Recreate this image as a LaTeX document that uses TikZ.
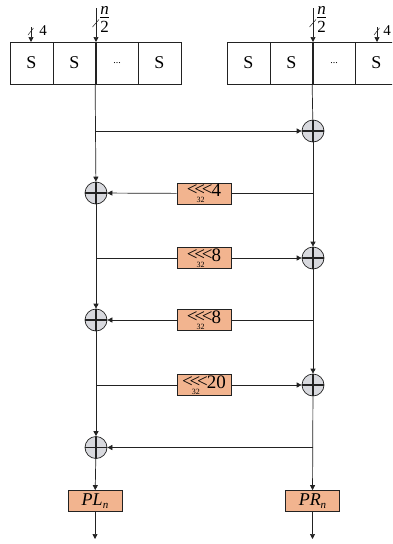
\documentclass[tikz,border=0pt]{standalone}
\usepackage{amsmath}
\usepackage{fontspec}
\setmainfont{Liberation Serif}
\usetikzlibrary{arrows.meta}
\definecolor{rotfill}{HTML}{F2B48F}
\definecolor{xorfill}{HTML}{D8D9DE}
\definecolor{ln}{HTML}{222222}
\tikzset{
  cell/.style={draw=ln, line width=0.7pt, minimum width=43pt, minimum height=42pt, inner sep=0pt, font=\fontsize{18}{18}\selectfont},
  xorn/.style={circle, draw=ln, line width=0.7pt, fill=xorfill, minimum size=22pt, inner sep=0pt,
    path picture={\draw[ln, line width=1.3pt] (path picture bounding box.north) -- (path picture bounding box.south)
      (path picture bounding box.west) -- (path picture bounding box.east);}},
  rotbox/.style={draw=ln, line width=0.7pt, fill=rotfill, minimum width=54pt, minimum height=21pt, inner sep=0pt},
  wire/.style={draw=ln, line width=0.7pt},
  arr/.style={wire, -{Triangle[length=5pt,width=5pt]}},
  slash/.style={draw=ln, line width=0.5pt},
  lab/.style={inner sep=0pt},
}
\newcommand{\rotl}[1]{{\fontsize{19}{19}\selectfont\raisebox{1pt}{<\kern-3.3pt<\kern-3.3pt<}}\kern-16pt\raisebox{-6.5pt}{\fontsize{8}{8}\selectfont 32}\kern7pt{\fontsize{19}{19}\selectfont #1}}
\newcommand{\halfn}{\shortstack{\fontsize{17}{13}\selectfont\textit{n}\\[-1pt]\rule{9pt}{0.5pt}\\[1pt]\fontsize{17}{13}\selectfont 2}}
\begin{document}
\begin{tikzpicture}[x=1pt,y=-1pt]
\useasboundingbox (0,0) rectangle (392,544);
\clip (0,0) rectangle (392,544);
% left S row
\node[cell] (l1) at (31.5,63) {S};
\node[cell] (l2) at (74.5,63) {S};
\node[cell] (l3) at (117,63) {\fontsize{10}{10}\selectfont ...};
\node[cell] (l4) at (159.5,63) {S};
% right S row
\node[cell] (r1) at (248.5,63) {S};
\node[cell] (r2) at (291.5,63) {S};
\node[cell] (r3) at (334,63) {\fontsize{10}{10}\selectfont ...};
\node[cell] (r4) at (376.5,63) {S};
% inputs
\coordinate (lin) at (96,8);
\coordinate (rin) at (313,8);
\coordinate (l4in) at (31,27);
\coordinate (r4in) at (377,27);
\coordinate (ltop) at (96,42);
\coordinate (rtop) at (313,42);
\coordinate (l4top) at (31,42);
\coordinate (r4top) at (377,42);
\draw[arr] (lin) -- (ltop);
\draw[arr] (rin) -- (rtop);
\draw[arr] (l4in) -- (l4top);
\draw[arr] (r4in) -- (r4top);
\draw[slash] (92.5,27) -- (99,19.5);
\draw[slash] (309.5,27) -- (316,19.5);
\draw[slash] (28,35) -- (33.5,28);
\draw[slash] (374,35) -- (379.5,28);
\node[lab] (n1) at (104.5,19.5) {\halfn};
\node[lab] (n2) at (321.5,19.5) {\halfn};
\node[lab, font=\fontsize{15}{15}\selectfont] (f1) at (43,31) {4};
\node[lab, font=\fontsize{15}{15}\selectfont] (f2) at (387,31) {4};
% XORs
\node[xorn] (x1) at (313,131) {};
\node[xorn] (x2) at (96,193) {};
\node[xorn] (x3) at (313,258) {};
\node[xorn] (x4) at (96,320) {};
\node[xorn] (x5) at (313,385) {};
\node[xorn] (x6) at (96,447.5) {};
% rotation boxes
\node[rotbox] (b1) at (204,193.5) {\rotl{4}};
\node[rotbox] (b2) at (204,258) {\rotl{8}};
\node[rotbox] (b3) at (204,320) {\rotl{8}};
\node[rotbox] (b4) at (204,385) {\rotl{20}};
% outputs
\node[rotbox, font=\fontsize{18}{18}\selectfont] (pl) at (95,501) {\textit{PL}\raisebox{-3pt}{\fontsize{11}{11}\selectfont\textit{n}}};
\node[rotbox, font=\fontsize{18}{18}\selectfont] (pr) at (312.5,501) {\textit{PR}\raisebox{-3pt}{\fontsize{11}{11}\selectfont\textit{n}}};
\coordinate (plo) at (95,539);
\coordinate (pro) at (312.5,539);
% branch points
\coordinate (j1) at (96,131);
\coordinate (j2) at (313,193.5);
\coordinate (j3) at (96,258);
\coordinate (j4) at (313,320);
\coordinate (j5) at (96,385);
\coordinate (j6) at (313,447.5);
% vertical wires
\draw[arr] (l3.south west) -- (x2);
\draw[wire] (r3.south west) -- (x1);
\draw[arr] (x1) -- (x3);
\draw[arr] (x2) -- (x4);
\draw[arr] (x3) -- (x5);
\draw[arr] (x4) -- (x6);
\draw[arr] (x5) -- (pr);
\draw[arr] (x6) -- (pl);
\draw[arr] (pl) -- (plo);
\draw[arr] (pr) -- (pro);
% horizontal wires
\draw[arr] (j1) -- (x1);
\draw[wire] (j2) -- (b1); \draw[arr] (b1) -- (x2);
\draw[wire] (j3) -- (b2); \draw[arr] (b2) -- (x3);
\draw[wire] (j4) -- (b3); \draw[arr] (b3) -- (x4);
\draw[wire] (j5) -- (b4); \draw[arr] (b4) -- (x5);
\draw[arr] (j6) -- (x6);
\end{tikzpicture}
\end{document}
